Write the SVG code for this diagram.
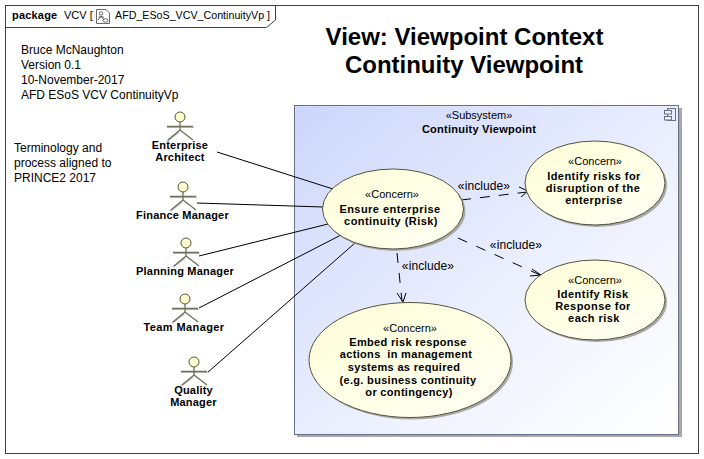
<svg xmlns="http://www.w3.org/2000/svg" width="704" height="459" viewBox="0 0 704 459">
  <style>
    text { font-family: "Liberation Sans", Arial, sans-serif; fill: #000; }
    .plain { font-size: 12px; }
    .stereo { font-size: 11px; text-anchor: middle; }
    .include { font-size: 12px; text-anchor: middle; letter-spacing: 0.1px; }
    .name { font-size: 11px; font-weight: bold; text-anchor: middle; letter-spacing: 0.45px; }
    .nameTight { font-size: 11px; font-weight: bold; text-anchor: middle; letter-spacing: 0.32px; }
    .actorName { font-size: 11px; font-weight: bold; text-anchor: middle; letter-spacing: 0.2px; }
    .boxName { font-size: 11px; font-weight: bold; text-anchor: middle; letter-spacing: 0.25px; }
    .title { font-size: 24px; font-weight: bold; text-anchor: middle; }
    .assoc { fill: none; stroke: #000; stroke-width: 1; }
    .dep { fill: none; stroke: #000; stroke-width: 1; stroke-dasharray: 10 10; }
    .head { fill: none; stroke: #000; stroke-width: 1; }
    .usecase { fill: url(#caseFill); stroke: #55553c; stroke-width: 1; }
    .caseShadow { fill: #a8a8a8; }
    .actorLine { fill: none; stroke: #6f6f5a; stroke-width: 1.300; }
    .actorShadow { fill: none; stroke: #c4c4c4; stroke-width: 2; }
    .actorHead { fill: #ffffcf; stroke: #55553c; stroke-width: 1; }
  </style>
  <defs>
    <linearGradient id="boxFill" x1="0" y1="0" x2="1" y2="1">
      <stop offset="0" stop-color="#ccd6fb"/>
      <stop offset="0.65" stop-color="#f1f4fe"/>
      <stop offset="1" stop-color="#ffffff"/>
    </linearGradient>
    <linearGradient id="caseFill" x1="0" y1="0" x2="1" y2="1">
      <stop offset="0" stop-color="#fdfdd8"/>
      <stop offset="0.6" stop-color="#ffffe8"/>
      <stop offset="1" stop-color="#fffff6"/>
    </linearGradient>
    <!-- stick figure, origin at the centre of the head -->
    <g id="actor">
      <path class="actorShadow" d="M-1 15 L-13 24"/>
      <path d="M-13 10.500 H14" stroke="#c4c4c4" stroke-width="1" fill="none"/>
      <circle class="actorHead" cx="0" cy="0" r="5"/>
      <path class="actorLine" d="M0 5 V13 M-13 9.500 H13 M0 13 L-12 23 M0 13 L13 23"/>
    </g>
  </defs>

  <rect width="704" height="459" fill="#fff"/>

  <!-- diagram frame and its name tab -->
  <g id="frame">
    <rect x="5.500" y="5.500" width="693" height="448" fill="#fff" stroke="#404040"/>
    <path d="M5.500 27.500 H266.500 L275.500 20 V5.500" fill="none" stroke="#404040"/>
    <text x="12" y="19" font-size="11" font-weight="bold" letter-spacing="0.200">package</text>
    <text x="64" y="19" font-size="11">VCV [</text>
    <g fill="none" stroke="#444" stroke-width="0.800">
      <path d="M96.500 9.500 H106 L109.500 13 V23.500 H96.500 Z"/>
      <circle cx="101" cy="13.500" r="1.700"/>
      <path d="M98 20 L101 16 L104 20 M98.500 17 H104"/>
      <ellipse cx="105.500" cy="20.500" rx="2.600" ry="1.700"/>
    </g>
    <text x="115" y="19" font-size="10.700">AFD_ESoS_VCV_ContinuityVp ]</text>
  </g>

  <g id="heading">
    <text class="title" x="464.500" y="45">View: Viewpoint Context</text>
    <text class="title" x="464" y="73">Continuity Viewpoint</text>
  </g>

  <g id="author-note">
    <text class="plain" x="21" y="54">Bruce McNaughton</text>
    <text class="plain" x="21" y="69">Version 0.1</text>
    <text class="plain" x="21" y="84">10-November-2017</text>
    <text class="plain" x="21" y="99">AFD ESoS VCV ContinuityVp</text>
  </g>
  <g id="terminology-note">
    <text class="plain" x="14" y="152">Terminology and</text>
    <text class="plain" x="14" y="167">process aligned to</text>
    <text class="plain" x="14" y="182">PRINCE2 2017</text>
  </g>

  <!-- subsystem boundary -->
  <g id="subsystem">
    <rect x="297" y="108" width="385" height="329" fill="#a8a8a8"/>
    <rect x="294.500" y="105.500" width="384" height="329" fill="url(#boxFill)" stroke="#66708a"/>
    <text class="stereo" x="479" y="119">«Subsystem»</text>
    <text class="boxName" x="479" y="133">Continuity Viewpoint</text>
    <g fill="none" stroke="#66708a" stroke-width="1">
      <rect x="667.500" y="108.500" width="8" height="12"/>
      <rect x="664.500" y="110.500" width="7" height="3.500" fill="#eef1fd"/>
      <rect x="664.500" y="116.500" width="7" height="3.500" fill="#eef1fd"/>
    </g>
  </g>

  <g id="connectors">
    <path class="assoc" d="M217 152 L333 189"/>
    <path class="assoc" d="M197 203 L323 207"/>
    <path class="assoc" d="M199 256 L328 224"/>
    <path class="assoc" d="M199 308 L341 235"/>
    <path class="assoc" d="M207 373 L355 243"/>
    <path class="dep" style="stroke-dasharray:10 9" d="M461 200 L527 192"/>
    <path class="head" d="M519 187 L528 191 L521 197"/>
    <path class="dep" d="M458 238 L540 275"/>
    <path class="head" d="M532 269 L541 275 L530 276"/>
    <path class="dep" d="M397 253 L402 301"/>
    <path class="head" d="M397 293 L403 302 L406 293"/>
    <text class="include" x="484" y="190">«include»</text>
    <text class="include" x="516" y="249">«include»</text>
    <text class="include" x="428" y="270">«include»</text>
  </g>

  <g id="actor-enterprise-architect">
    <use href="#actor" x="180" y="117"/>
    <text class="actorName" x="180" y="149">Enterprise</text>
    <text class="actorName" x="180" y="161">Architect</text>
  </g>
  <g id="actor-finance-manager">
    <use href="#actor" x="183" y="187"/>
    <text class="actorName" x="182.500" y="219">Finance Manager</text>
  </g>
  <g id="actor-planning-manager">
    <use href="#actor" x="186" y="243"/>
    <text class="actorName" x="185" y="275">Planning Manager</text>
  </g>
  <g id="actor-team-manager">
    <use href="#actor" x="185" y="299"/>
    <text class="actorName" x="184" y="331" style="letter-spacing:0.4px">Team Manager</text>
  </g>
  <g id="actor-quality-manager">
    <use href="#actor" x="194" y="362"/>
    <text class="actorName" x="193.500" y="394">Quality</text>
    <text class="actorName" x="193.500" y="406">Manager</text>
  </g>

  <g id="concern-ensure-continuity">
    <ellipse class="caseShadow" cx="395" cy="211" rx="70.500" ry="40"/>
    <ellipse class="usecase" cx="393" cy="209" rx="70.500" ry="40"/>
    <text class="stereo" x="392" y="198">«Concern»</text>
    <text class="name" x="390" y="213">Ensure enterprise</text>
    <text class="name" x="391" y="225">continuity (Risk)</text>
  </g>
  <g id="concern-identify-risks">
    <ellipse class="caseShadow" cx="597" cy="185" rx="70" ry="42"/>
    <ellipse class="usecase" cx="595" cy="183" rx="70" ry="42"/>
    <text class="stereo" x="595" y="165">«Concern»</text>
    <text class="name" x="594" y="180">Identify risks for</text>
    <text class="name" x="593" y="192">disruption of the</text>
    <text class="name" x="594" y="204">enterprise</text>
  </g>
  <g id="concern-identify-response">
    <ellipse class="caseShadow" cx="597" cy="302" rx="70" ry="40"/>
    <ellipse class="usecase" cx="595" cy="300" rx="70" ry="40"/>
    <text class="stereo" x="595" y="284">«Concern»</text>
    <text class="name" x="593" y="298">Identify Risk</text>
    <text class="name" x="593" y="310">Response for</text>
    <text class="name" x="594" y="322">each risk</text>
  </g>
  <g id="concern-embed-response">
    <ellipse class="caseShadow" cx="412" cy="362" rx="101" ry="57.500"/>
    <ellipse class="usecase" cx="410" cy="360" rx="101" ry="57.500"/>
    <text class="stereo" x="410" y="332">«Concern»</text>
    <text class="nameTight" x="408" y="346">Embed risk response</text>
    <text class="nameTight" x="406" y="358" xml:space="preserve">actions  in management</text>
    <text class="nameTight" x="404" y="371">systems as required</text>
    <text class="nameTight" x="408" y="384">(e.g. business continuity</text>
    <text class="nameTight" x="409" y="396">or contingency)</text>
  </g>
</svg>
